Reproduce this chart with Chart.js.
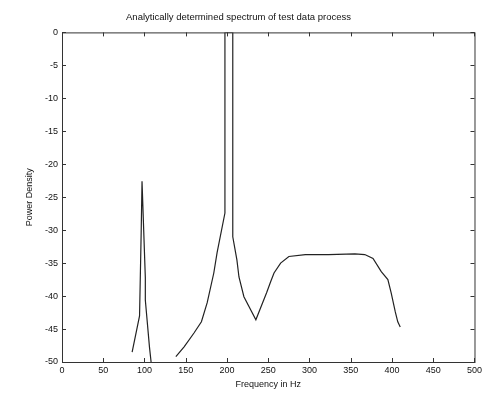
<!DOCTYPE html>
<html lang="en">
<head>
  <meta charset="UTF-8" />
  <title>Analytically determined spectrum</title>
  <script src="https://cdn.jsdelivr.net/npm/chart.js"></script>
  <style>
    html, body { margin: 0; padding: 0; background: #fff; }
    #wrap { width: 485px; height: 396px; }
  </style>
</head>
<body>
  <div id="wrap"><canvas id="chart"></canvas></div>
  <script>
    // spectrum (Hz, power density)
    const freq  = [85, 94, 96, 97, 101, 101, 106, 108, null,
                   138, 148, 160, 169, 176, 184, 188, 197.5, 197.5, 207, 207, 212, 214.5, 220.5, 235,
                   248, 253, 257, 265, 275, 295, 323, 355, 367, 377, 387, 395, 399, 404, 407, 410];
    const power = [-48.5, -43, -30.2, -22.6, -37.2, -40.6, -47.7, -50, null,
                   -49.2, -47.7, -45.6, -43.9, -41, -36.5, -33.4, -27.4, 0, 0, -31, -34.5, -37.1, -40.1, -43.6,
                   -39.5, -37.8, -36.5, -35, -34, -33.7, -33.7, -33.6, -33.7, -34.3, -36.3, -37.5, -39.5, -42.4, -43.9, -44.7];
    const xTicks = [0, 50, 100, 150, 200, 250, 300, 350, 400, 450, 500];
    const yTicks = [0, -5, -10, -15, -20, -25, -30, -35, -40, -45, -50];

    const pts = freq.map((f, i) => f === null ? { x: null, y: null } : { x: f, y: power[i] });

    const font = { family: "'Liberation Sans', Arial, sans-serif", size: 9 };

    // box frame with inward ticks, matlab style
    const boxPlugin = {
      id: "box",
      afterDraw(chart) {
        const { ctx, chartArea: a, scales } = chart;
        ctx.save();
        ctx.strokeStyle = "#333";
        ctx.lineWidth = 1;
        ctx.strokeRect(a.left + 0.5, a.top + 0.5, a.right - a.left, a.bottom - a.top);
        ctx.beginPath();
        xTicks.forEach(v => {
          const px = Math.round(scales.x.getPixelForValue(v)) + 0.5;
          ctx.moveTo(px, a.bottom); ctx.lineTo(px, a.bottom - 4);
          ctx.moveTo(px, a.top); ctx.lineTo(px, a.top + 4);
        });
        yTicks.forEach(v => {
          const py = Math.round(scales.y.getPixelForValue(v)) + 0.5;
          ctx.moveTo(a.left, py); ctx.lineTo(a.left + 4, py);
          ctx.moveTo(a.right, py); ctx.lineTo(a.right - 4, py);
        });
        ctx.stroke();
        ctx.restore();
      }
    };

    new Chart(document.getElementById("chart"), {
      type: "line",
      data: {
        datasets: [{
          data: pts,
          borderColor: "#222",
          borderWidth: 1.2,
          pointRadius: 0,
          tension: 0,
          spanGaps: false
        }]
      },
      options: {
        responsive: true,
        maintainAspectRatio: false,
        animation: false,
        layout: { padding: { left: 0, right: 8, top: 0, bottom: 6 } },
        plugins: {
          legend: { display: false },
          tooltip: { enabled: false },
          title: {
            display: true,
            text: "Analytically determined spectrum of test data process",
            color: "#111",
            font: { family: font.family, size: 9.5, weight: "normal" },
            padding: { top: 12, bottom: 9 }
          }
        },
        scales: {
          x: {
            type: "linear",
            min: 0, max: 500,
            afterBuildTicks: s => { s.ticks = xTicks.map(v => ({ value: v })); },
            afterFit: s => { s.height = 28; },
            grid: { display: false, drawTicks: false },
            border: { display: false },
            ticks: { color: "#111", font, padding: 3, maxRotation: 0 },
            title: { display: true, text: "Frequency in Hz", color: "#111", font, padding: { top: 2, bottom: 0 } }
          },
          y: {
            min: -50, max: 0,
            afterBuildTicks: s => { s.ticks = yTicks.map(v => ({ value: v })); },
            afterFit: s => { s.width = 62; },
            grid: { display: false, drawTicks: false },
            border: { display: false },
            ticks: { color: "#111", font, padding: 4 },
            title: { display: true, text: "Power Density", color: "#111", font, padding: { top: 24, bottom: 6 } }
          }
        }
      },
      plugins: [boxPlugin]
    });
  </script>
</body>
</html>
